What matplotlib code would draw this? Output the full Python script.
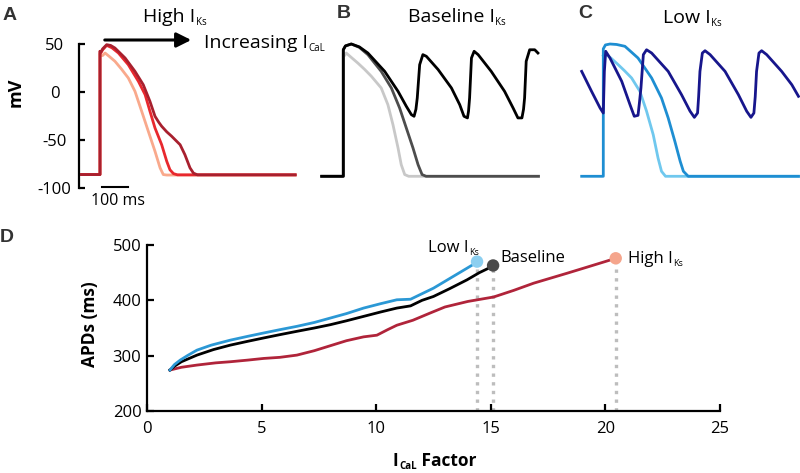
import matplotlib
matplotlib.use("Agg")
import matplotlib.pyplot as plt

plt.rcParams['font.family'] = ['Open Sans', 'DejaVu Sans']
plt.rcParams['axes.unicode_minus'] = False

# ---------------- data ----------------
# Panel A (High IKs): time (ms, upstroke at 0), voltage (mV)
a_low_t = [-69, 0, 0, 4, 10, 19, 35, 56, 80, 106, 131, 156, 181, 206, 225, 237, 250, 731]
a_low_v = [-86, -86, 40, 38, 38, 40.6, 37, 32, 24, 14.6, 0.7, -20, -41, -61.8, -79, -86, -86.5, -86.5]
a_mid_t = [-69, 0, 0, 4, 10, 25, 45, 69, 106, 144, 169, 187, 206, 231, 250, 262, 275, 290, 731]
a_mid_v = [-86, -86, 42.4, 41, 44, 48.6, 46, 40.6, 28.4, 11, -2.8, -20, -37.5, -54.9, -72.2, -81, -85, -86.3, -86.3]
a_high_t = [-69, 0, 0, 4, 10, 25, 40, 56, 94, 131, 162, 187, 206, 220, 231, 250, 268, 300, 318, 337,
            350, 365, 731]
a_high_v = [-86, -86, 42.4, 42, 45, 49.3, 48.5, 45.8, 35.4, 21.5, 7.6, -9.7, -25.3, -31.5, -35.7, -41.5,
            -46, -54.9, -65.3, -79, -84.5, -86.3, -86.3]
a_scalebar_ms = [6, 106]

# Panel B (Baseline IKs)
b_low_t = [-81, 0, 0, 5, 11, 30, 55, 80, 105, 142, 167, 186, 205, 217, 230, 245, 731]
b_low_v = [-87.8, -87.8, 40, 38, 40.6, 36, 30, 23.5, 16.4, 4.2, -13.2, -34, -58.3, -75.7, -86, -87.8, -87.8]
b_mid_t = [-81, 0, 0, 8, 30, 60, 92, 142, 180, 211, 236, 261, 280, 295, 310, 731]
b_mid_v = [-87.8, -87.8, 44, 48, 50, 46.5, 38.9, 21.5, 4.2, -16.7, -37.5, -58.3, -75.7, -86, -87.8, -87.8]
b_ead_t = [-81, 0, 0, 8, 30, 60, 92, 155, 205, 236, 255, 265, 272, 277, 286, 298, 311, 355, 405, 436,
           452, 465, 469, 473, 480, 490, 505, 554, 604, 636, 654, 669, 675, 679, 685, 698, 717, 729]
b_ead_v = [-87.8, -87.8, 44, 48, 50, 47, 40.6, 21.5, 0.7, -14.9, -23.6, -25.3, -18, -6.2, 28.4, 38.9, 37.2,
           23.4, 4.2, -13.2, -25.3, -27, -20, -6.2, 35.4, 42.4, 38.9, 21.5, 0.7, -16.7, -27, -27, -18,
           -6.2, 32, 44, 44, 40.6]

# Panel C (Low IKs)
c_low_t = [0, 5, 12, 30, 56, 80, 106, 137, 162, 187, 205, 218, 233, 731]
c_low_v = [38, 37, 38.9, 35, 28.4, 22, 14.6, 0.7, -20, -44.5, -68.75, -82.6, -87.8, -87.8]
c_mid_t = [-81, 0, 0, 8, 25, 50, 81, 130, 181, 218, 243, 268, 288, 300, 318, 731]
c_mid_v = [-87.8, -87.8, 45, 49, 50, 49.5, 47.6, 35.4, 14.6, -6.25, -27, -51.4, -72.2, -82.6, -87.8, -87.8]
c_osc_t = [-81, -44, -12, 0, 4, 9, 25, 69, 100, 116, 130, 135, 141, 150, 162, 181, 243, 293, 325, 341,
           353, 357, 362, 371, 381, 400, 456, 506, 537, 553, 564, 569, 574, 583, 593, 612, 668, 706, 731]
c_osc_v = [21.5, 0.7, -16.7, -21.9, 21.5, 42.4, 35.4, 11.1, -13.2, -25.3, -24.3, -12, 4.2, 38.9, 44, 40.6,
           21.5, -2.8, -20, -26.4, -21.9, -5, 21.5, 40.6, 43, 38.9, 21.5, -2.8, -20, -26.4, -21.9, -5,
           21.5, 40.6, 43, 38.9, 21.5, 7.6, -4.5]

# Panel D: APD vs ICaL factor
d_low_x = [1.0, 1.2, 1.45, 1.8, 2.18, 2.8, 3.63, 4.4, 5.09, 5.8, 6.54, 7.3, 8.0, 8.7, 9.45, 10.2, 10.9, 11.5,
           12.0, 12.5, 13.23, 13.96, 14.4]
d_low_y = [274, 284, 292, 301, 310, 319, 328, 335, 341, 347, 353, 360, 368, 376, 386, 394, 401, 402,
           412, 422, 440, 458, 469]
d_base_x = [1.0, 1.2, 1.5, 2.18, 2.9, 3.63, 4.4, 5.09, 5.8, 6.54, 7.3, 8.0, 8.7, 9.45, 10.2, 10.9, 11.5,
            12.0, 12.5, 13.2, 13.96, 14.5, 15.05]
d_base_y = [274, 281, 289, 301, 311, 319, 326, 332, 338, 344, 350, 356, 363, 371, 379, 386, 390,
            400, 407, 421, 437, 450, 461]
d_high_x = [1.0, 1.5, 2.18, 3.0, 3.63, 4.4, 5.09, 5.8, 6.54, 7.3, 8.0, 8.7, 9.45, 10.03, 10.5, 10.9, 11.6,
            12.35, 13.0, 14.0, 15.12, 16.0, 16.87, 17.6, 18.33, 19.2, 20.3]
d_high_y = [274, 279, 283, 287, 289, 292, 295, 297, 301, 309, 318, 327, 334, 337, 347, 355, 364,
            377, 388, 398, 406, 418, 431, 440, 449, 460, 474]
d_end_x = [14.4, 15.1, 20.45]
d_end_y = [470, 463, 476]
d_xticks = [0, 5, 10, 15, 20, 25]
d_yticks = [200, 300, 400, 500]
a_yticks = [50, 0, -50, -100]

# ---------------- layout helpers ----------------
W, H = 800, 473
fig = plt.figure(figsize=(W / 100, H / 100), dpi=100)


def fx(px):
    return px / W


def fy(py):
    return 1 - py / H


def ax_px(left, top, right, bottom):
    return fig.add_axes([fx(left), fy(bottom), (right - left) / W, (bottom - top) / H])


renderer = fig.canvas.get_renderer()


def sub_text(x, ybase, main, sub, size, subsize, tail='', weight='normal', drop=3, color='black'):
    t = fig.text(fx(x), fy(ybase), main, fontsize=size, ha='left', va='baseline',
                 weight=weight, color=color)
    bb = t.get_window_extent(renderer=renderer)
    s = fig.text(bb.x1 / W + 0.5 / W, fy(ybase + drop), sub, fontsize=subsize, ha='left',
                 va='baseline', weight=weight, color=color)
    if tail:
        bb2 = s.get_window_extent(renderer=renderer)
        fig.text(bb2.x1 / W, fy(ybase), tail, fontsize=size, ha='left', va='baseline',
                 weight=weight, color=color)


ms2px = 0.267
lw_tr = 2.0

# ---------------- Panel A ----------------
axA = ax_px(79, 44, 300, 188)
axA.set_xlim((79 - 100) / ms2px, (300 - 100) / ms2px)
axA.set_ylim(-100, 50)
axA.plot(a_low_t, a_low_v, color='#F9A98C', lw=lw_tr, clip_on=False)
axA.plot(a_mid_t, a_mid_v, color='#E8282E', lw=lw_tr, clip_on=False)
axA.plot(a_high_t, a_high_v, color='#A8202E', lw=lw_tr, clip_on=False)
for sp in ['top', 'right', 'bottom']:
    axA.spines[sp].set_visible(False)
axA.spines['left'].set_linewidth(1.6)
axA.set_xticks([])
axA.set_yticks(a_yticks)
axA.tick_params(axis='y', direction='in', length=4, width=1.6, labelsize=12, pad=17.5)
for lb in axA.get_yticklabels():
    lb.set_ha('center')
axA.patch.set_visible(False)
axA.plot(a_scalebar_ms, [-98.6, -98.6], color='black', lw=1.5, clip_on=False)
fig.text(fx(118), fy(201), '100 ms', fontsize=11.5, ha='center', va='center')
fig.text(fx(16), fy(92), 'mV', fontsize=13, weight='bold', rotation=90, ha='center', va='center')

# arrow
fig.add_artist(matplotlib.patches.FancyArrowPatch((fx(102), fy(40)), (fx(194), fy(40)),
                                                  transform=fig.transFigure, arrowstyle='-|>',
                                                  mutation_scale=22, lw=2.2, color='black'))
sub_text(143, 22, 'High I', 'Ks', 14, 7)
sub_text(204, 48, 'Increasing I', 'CaL', 14, 7)

# ---------------- Panel B ----------------
axB = ax_px(320, 44, 545, 188)
axB.set_xlim((320 - 343.3) / ms2px, (545 - 343.3) / ms2px)
axB.set_ylim(-100, 50)
axB.plot(b_low_t, b_low_v, color='#C8C8C8', lw=lw_tr, clip_on=False)
axB.plot(b_mid_t, b_mid_v, color='#4D4D4D', lw=lw_tr, clip_on=False)
axB.plot(b_ead_t, b_ead_v, color='#000000', lw=lw_tr, clip_on=False)
axB.axis('off')
sub_text(408, 22, 'Baseline I', 'Ks', 14, 7)

# ---------------- Panel C ----------------
axC = ax_px(580, 44, 800, 188)
axC.set_xlim((580 - 603.3) / ms2px, (800 - 603.3) / ms2px)
axC.set_ylim(-100, 50)
axC.plot(c_low_t, c_low_v, color='#70C8EE', lw=lw_tr, clip_on=False)
axC.plot(c_mid_t, c_mid_v, color='#1E8ED2', lw=lw_tr, clip_on=False)
axC.plot(c_osc_t, c_osc_v, color='#17168C', lw=lw_tr, clip_on=False)
axC.axis('off')
sub_text(663, 23, 'Low I', 'Ks', 14, 7)

# ---------------- Panel D ----------------
axD = ax_px(147, 245, 720, 411)
axD.set_xlim(0, 25)
axD.set_ylim(200, 500)
axD.vlines(d_end_x, 200, d_end_y, colors='#BDBDBD', lw=2.4, linestyles=(0, (1.0, 1.6)), zorder=1)
axD.plot(d_high_x, d_high_y, color='#B0243A', lw=2.0, zorder=2)
axD.plot(d_base_x, d_base_y, color='#000000', lw=2.0, zorder=3)
axD.plot(d_low_x, d_low_y, color='#2B98D5', lw=2.0, zorder=4)
axD.scatter(d_end_x, d_end_y, s=80, c=['#8CCFF0', '#4A4A4A', '#F5A58C'], zorder=5, clip_on=False,
            linewidths=0)
for sp in ['top', 'right']:
    axD.spines[sp].set_visible(False)
for sp in ['left', 'bottom']:
    axD.spines[sp].set_linewidth(1.6)
axD.set_xticks(d_xticks)
axD.set_yticks(d_yticks)
axD.tick_params(direction='in', length=5, width=1.6, labelsize=12)
axD.tick_params(axis='x', pad=7)
axD.tick_params(axis='y', pad=4)
axD.patch.set_visible(False)

sub_text(428, 252, 'Low I', 'Ks', 12, 6.5)
fig.text(fx(500), fy(262), 'Baseline', fontsize=12, ha='left', va='baseline')
sub_text(628, 263, 'High I', 'Ks', 12, 6.5)

fig.text(fx(90), fy(324), 'APDs (ms)', fontsize=12.5, weight='bold', rotation=90, ha='center', va='center')
sub_text(393, 466, 'I', 'CaL', 12.5, 7, tail=' Factor', weight='bold', drop=3)

# panel letters
for lt, x, yb in [('A', 3, 20), ('B', 337, 18), ('C', 578, 18.5), ('D', 0, 242)]:
    fig.text(fx(x), fy(yb), lt, fontsize=14, weight='bold', color='#333333', ha='left', va='baseline',
             family=['Liberation Sans', 'DejaVu Sans'])

fig.savefig('out.png', dpi=100)
